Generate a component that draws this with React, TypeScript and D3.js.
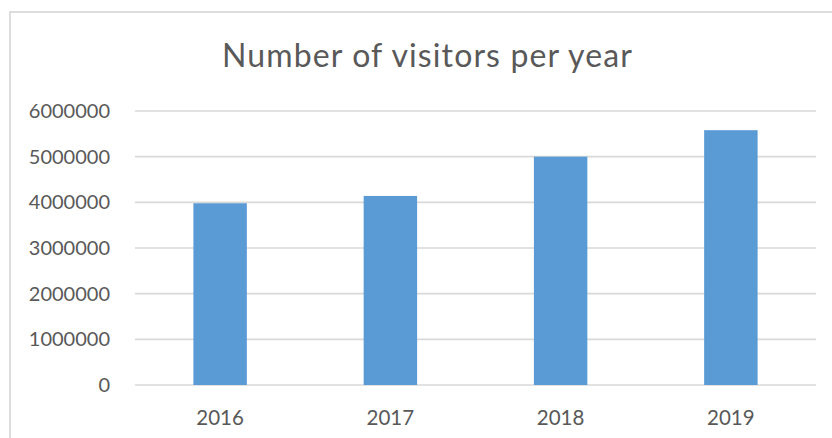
import React, { useRef, useEffect } from 'react';
import * as d3 from 'd3';

const years = ['2016', '2017', '2018', '2019'];
const visitors = [3980000, 4140000, 5000000, 5580000];
const yTicks = [0, 1000000, 2000000, 3000000, 4000000, 5000000, 6000000];

const App: React.FC = () => {
  const ref = useRef<SVGSVGElement>(null);

  useEffect(() => {
    const width = 832;
    const height = 438;
    const plot = { left: 135, right: 816, top: 111, bottom: 385 };
    const font = 'Lato, Carlito, "Open Sans", sans-serif';

    const svg = d3.select(ref.current)
      .attr('width', width)
      .attr('height', height);
    svg.selectAll('*').remove();

    // chart area frame (right and bottom edges fall outside the picture)
    svg.append('rect')
      .attr('x', 10)
      .attr('y', 12)
      .attr('width', 840)
      .attr('height', 450)
      .attr('fill', '#fff')
      .attr('stroke', '#d9d9d9')
      .attr('stroke-width', 1.75);

    svg.append('text')
      .attr('x', 427)
      .attr('y', 67)
      .attr('text-anchor', 'middle')
      .attr('font-family', font)
      .attr('font-size', 32)
      .attr('textLength', 410)
      .attr('lengthAdjust', 'spacing')
      .attr('fill', '#595959')
      .text('Number of visitors per year');

    const x = d3.scaleBand<string>()
      .domain(years)
      .range([plot.left, plot.right])
      .paddingInner(0.686)
      .paddingOuter(0.343);

    const y = d3.scaleLinear()
      .domain([0, 6000000])
      .range([plot.bottom, plot.top]);

    // gridlines
    svg.append('g')
      .selectAll('line')
      .data(yTicks)
      .join('line')
      .attr('x1', plot.left)
      .attr('x2', plot.right)
      .attr('y1', d => y(d))
      .attr('y2', d => y(d))
      .attr('stroke', '#d9d9d9')
      .attr('stroke-width', 1.6);

    // y labels
    svg.append('g')
      .selectAll('text')
      .data(yTicks)
      .join('text')
      .attr('x', 110)
      .attr('y', d => y(d) + 7)
      .attr('text-anchor', 'end')
      .attr('font-family', font)
      .attr('font-size', 20)
      .attr('fill', '#595959')
      .text(d => String(d));

    // bars
    svg.append('g')
      .selectAll('rect')
      .data(visitors)
      .join('rect')
      .attr('x', (d, i) => x(years[i])!)
      .attr('y', d => y(d))
      .attr('width', x.bandwidth())
      .attr('height', d => y(0) - y(d))
      .attr('fill', '#5b9bd5');

    // x labels
    svg.append('g')
      .selectAll('text')
      .data(years)
      .join('text')
      .attr('x', d => x(d)! + x.bandwidth() / 2)
      .attr('y', 425)
      .attr('text-anchor', 'middle')
      .attr('font-family', font)
      .attr('font-size', 20.5)
      .attr('fill', '#595959')
      .text(d => d);
  }, []);

  return (
    <div style={{ position: 'absolute', left: 0, top: 0 }}>
      <svg ref={ref} style={{ display: 'block' }}></svg>
    </div>
  );
};

export default App;
